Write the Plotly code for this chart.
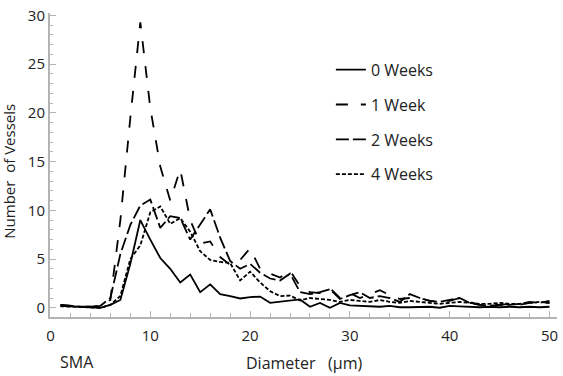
import plotly.graph_objects as go

diameter = list(range(1, 51))

weeks0 = [0.2, 0.15, 0.05, 0.0, 0.0, 0.3, 0.8, 4.5, 9.0, 7.0,
          5.1, 4.0, 2.6, 3.4, 1.6, 2.4, 1.4, 1.2, 0.95, 1.1,
          1.15, 0.5, 0.6, 0.75, 0.85, 0.1, 0.5, 0.0, 0.5, 0.25,
          0.2, 0.15, 0.1, 0.2, 0.05, 0.05, 0.1, 0.1, 0.0, 0.2,
          0.15, 0.1, 0.05, 0.1, 0.05, 0.1, 0.05, 0.1, 0.05, 0.1]

weeks1 = [0.3, 0.2, 0.1, 0.1, 0.2, 0.8, 9.0, 19.5, 29.3, 20.5,
          14.5, 11.0, 14.2, 9.0, 6.6, 6.8, 5.2, 4.4, 4.9, 6.1,
          4.0, 3.5, 3.1, 3.8, 2.2, 1.6, 1.5, 2.0, 1.0, 1.5,
          1.0, 1.4, 1.8, 1.3, 0.9, 1.0, 1.0, 0.7, 0.6, 0.7,
          1.0, 0.6, 0.3, 0.4, 0.3, 0.4, 0.3, 0.5, 0.5, 0.5]

weeks2 = [0.3, 0.2, 0.1, 0.1, 0.2, 1.0, 5.5, 8.5, 10.5, 11.1,
          8.2, 9.4, 9.2, 7.0, 8.6, 10.1, 7.2, 4.8, 4.0, 4.5,
          3.6, 3.0, 2.8, 3.5, 1.6, 1.4, 1.6, 1.9, 0.9, 1.3,
          1.6, 1.0, 1.2, 1.0, 0.6, 1.4, 1.0, 0.7, 0.6, 0.8,
          1.0, 0.5, 0.3, 0.2, 0.3, 0.3, 0.4, 0.6, 0.5, 0.7]

weeks4 = [0.15, 0.1, 0.05, 0.0, 0.0, 0.3, 1.2, 5.0, 6.4, 9.8,
          10.4, 8.6, 9.2, 7.8, 5.8, 4.9, 4.7, 4.6, 2.8, 3.7,
          2.6, 1.7, 1.2, 1.25, 0.75, 1.0, 0.9, 0.8, 0.6, 0.8,
          0.7, 0.6, 0.8, 0.6, 0.5, 0.7, 0.6, 0.5, 0.4, 0.5,
          0.6, 0.5, 0.4, 0.4, 0.5, 0.4, 0.4, 0.5, 0.6, 0.5]

series = [
    ("0 Weeks", weeks0, "solid"),
    ("1 Week", weeks1, "12px,13px"),
    ("2 Weeks", weeks2, "13px,4px"),
    ("4 Weeks", weeks4, "4px,2px"),
]

FONT = "Open Sans"
fig = go.Figure()
for i, (name, vals, dash) in enumerate(series):
    fig.add_trace(go.Scatter(
        x=diameter, y=vals, name=name, mode="lines",
        legendgroup=f"g{i}",
        line=dict(color="black", width=1.8, dash=dash),
    ))

axis_color = "#b4b4b4"
fig.update_layout(
    width=563, height=376,
    margin=dict(l=50, r=5, t=5, b=59),
    paper_bgcolor="white", plot_bgcolor="white",
    font=dict(family=FONT, color="#222222", size=15),
    showlegend=True,
    legend=dict(x=0.554, y=0.869, xanchor="left", yanchor="top",
                bgcolor="rgba(0,0,0,0)", tracegroupgap=11,
                font=dict(size=16, family=FONT, color="#222222")),
    xaxis=dict(range=[-0.05, 50.75], showgrid=False, zeroline=False,
               showline=True, linecolor=axis_color, linewidth=2,
               tickmode="linear", tick0=0, dtick=10,
               ticks="inside", ticklen=6, tickcolor=axis_color, tickwidth=1,
               minor=dict(dtick=2, ticks="inside", ticklen=4,
                          tickcolor=axis_color, tickwidth=1),
               ticklabelstandoff=4, ticklabeloverflow="allow",
               tickfont=dict(size=15)),
    yaxis=dict(range=[-0.95, 30.25], showgrid=False, zeroline=False,
               showline=True, linecolor=axis_color, linewidth=2,
               tickmode="linear", tick0=0, dtick=5,
               ticks="inside", ticklen=6, tickcolor=axis_color, tickwidth=1,
               minor=dict(dtick=1, ticks="inside", ticklen=3,
                          tickcolor=axis_color, tickwidth=1),
               ticklabeloverflow="allow",
               tickfont=dict(size=15)),
    annotations=[
        dict(text="Number  of Vessels", xref="paper", yref="paper",
             x=0, y=0.478, xanchor="center", yanchor="middle",
             xshift=-41, textangle=-90, showarrow=False,
             font=dict(size=15, family=FONT, color="#222222")),
        dict(text="Diameter   (μm)", xref="paper", yref="paper",
             x=(305 - 50) / 508, y=0, xanchor="center", yanchor="middle",
             yshift=-46, showarrow=False,
             font=dict(size=16, family=FONT, color="#222222")),
        dict(text="SMA", xref="paper", yref="paper",
             x=(77 - 50) / 508, y=0, xanchor="center", yanchor="middle",
             yshift=-45, showarrow=False,
             font=dict(size=16, family=FONT, color="#222222")),
    ],
)

fig.write_html("out.html", config={"displayModeBar": False},
               post_script="document.body.style.margin='0px';document.body.style.overflow='hidden';")
